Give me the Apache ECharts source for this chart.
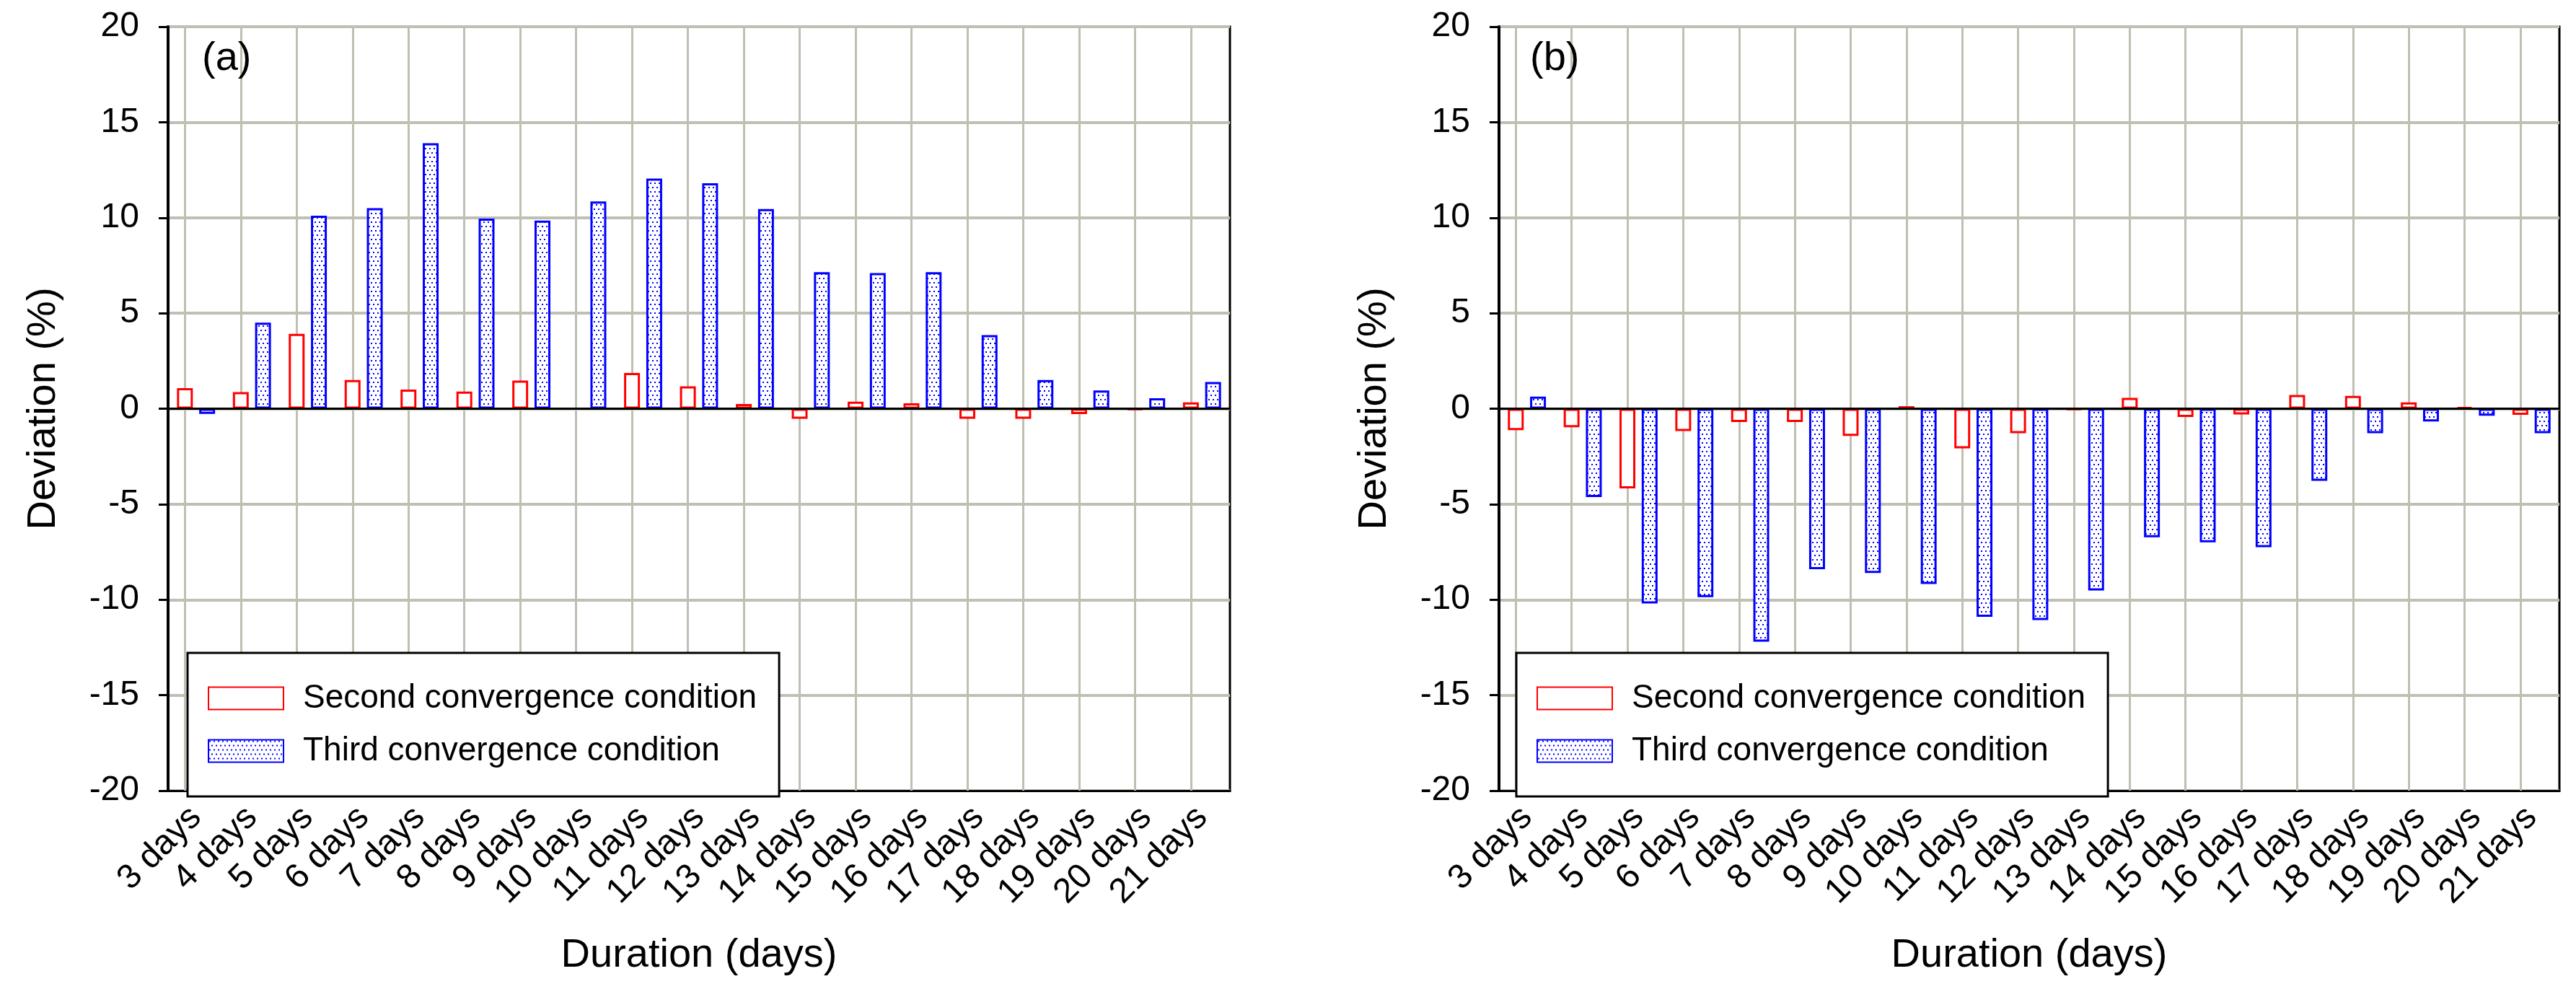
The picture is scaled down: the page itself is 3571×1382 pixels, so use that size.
<!DOCTYPE html>
<html>
<head>
<meta charset="utf-8">
<script src="https://cdn.jsdelivr.net/npm/echarts@6/dist/echarts.min.js"></script>
<style>
html,body{margin:0;padding:0;background:#fff;}
#chart{width:3571px;height:1382px;}
</style>
</head>
<body>
<div id="chart"></div>
<script>
// ---- data ----
const categories = ['3 days','4 days','5 days','6 days','7 days','8 days','9 days','10 days','11 days','12 days','13 days','14 days','15 days','16 days','17 days','18 days','19 days','20 days','21 days'];
const yTicks = [-20, -15, -10, -5, 0, 5, 10, 15, 20];
const secondA = [1.08, 0.87, 3.92, 1.5, 1.0, 0.9, 1.47, 0, 1.87, 1.17, 0.25, -0.53, 0.37, 0.28, -0.53, -0.53, -0.28, -0.05, 0.33];
const thirdA  = [-0.27, 4.5, 10.1, 10.5, 13.9, 9.95, 9.85, 10.85, 12.05, 11.8, 10.45, 7.15, 7.1, 7.15, 3.85, 1.5, 0.95, 0.55, 1.4];
const secondB = [-1.12, -0.97, -4.17, -1.17, -0.7, -0.7, -1.43, 0.13, -2.08, -1.28, -0.05, 0.57, -0.43, -0.3, 0.72, 0.67, 0.33, 0.08, -0.32];
const thirdB  = [0.63, -4.63, -10.2, -9.87, -12.2, -8.4, -8.6, -9.18, -10.9, -11.07, -9.52, -6.73, -7.0, -7.25, -3.78, -1.28, -0.67, -0.37, -1.28];
const seriesNames = ['Second convergence condition', 'Third convergence condition'];
const panelLabels = ['(a)', '(b)'];
const xTitle = 'Duration (days)';
const yTitle = 'Deviation (%)';

// ---- styling ----
const FONT = 'Liberation Sans, Arial, sans-serif';
const GRIDC = '#bfbfb3';

// dotted pattern for third condition
const pc = document.createElement('canvas');
pc.width = 6; pc.height = 12;
const pctx = pc.getContext('2d');
pctx.fillStyle = '#ffffff';
pctx.fillRect(0, 0, 6, 12);
pctx.fillStyle = '#0000ff';
pctx.fillRect(1, 1, 2, 2);
pctx.fillRect(4, 7, 2, 2);
const dotPattern = { image: pc, repeat: 'repeat' };

const grids = [
  { left: 233, right: 1866, top: 37, bottom: 286 },
  { left: 2078, right: 23, top: 37, bottom: 286 }
];

function xAxisFor(i) {
  return {
    type: 'category', gridIndex: i, data: categories, boundaryGap: true,
    position: 'bottom',
    axisLine: { onZero: false, lineStyle: { color: '#000', width: 3 } },
    axisTick: { alignWithLabel: true, length: 15, lineStyle: { color: '#000', width: 3 } },
    axisLabel: { rotate: 45, interval: 0, fontSize: 48, fontFamily: FONT, color: '#000', margin: 30 },
    splitLine: { show: false },
    name: xTitle, nameLocation: 'middle', nameGap: 229,
    nameTextStyle: { fontSize: 56, fontFamily: FONT, color: '#000', verticalAlign: 'middle' }
  };
}
function yAxisFor(i) {
  return {
    type: 'value', gridIndex: i, min: yTicks[0], max: yTicks[yTicks.length - 1], interval: yTicks[1] - yTicks[0],
    axisLine: { show: true, lineStyle: { color: '#000', width: 4 } },
    axisTick: { show: true, length: 13, lineStyle: { color: '#000', width: 3 } },
    axisLabel: { fontSize: 48, fontFamily: FONT, color: '#000', margin: 40 },
    splitLine: { show: true, lineStyle: { color: GRIDC, width: 4 } },
    name: yTitle, nameLocation: 'middle', nameGap: 172, nameRotate: 90,
    nameTextStyle: { fontSize: 56, fontFamily: FONT, color: '#000', verticalAlign: 'middle' }
  };
}
function barSeries(name, data, i, isThird) {
  const s = {
    name: name, type: 'bar', xAxisIndex: i, yAxisIndex: i, data: data,
    barWidth: 22, barGap: '40%',
    itemStyle: isThird
      ? { color: dotPattern, borderColor: '#0000ff', borderWidth: 3 }
      : { color: '#ffffff', borderColor: '#ff0000', borderWidth: 3 },
    emphasis: { disabled: true },
    z: 3
  };
  if (isThird) {
    // zero reference line
    s.markLine = {
      silent: true, symbol: ['none', 'none'], label: { show: false }, z: 4,
      lineStyle: { color: '#000', width: 3, type: 'solid' },
      data: [{ yAxis: 0 }], animation: false
    };
  } else {
    // vertical grid lines through category centres
    s.markLine = {
      silent: true, symbol: ['none', 'none'], label: { show: false }, z: 1,
      lineStyle: { color: GRIDC, width: 3, type: 'solid' },
      data: categories.map(c => ({ xAxis: c })), animation: false
    };
  }
  return s;
}
function legendFor(i, left) {
  return {
    data: seriesNames, orient: 'vertical', left: left, top: 905, z: 20,
    itemWidth: 104, itemHeight: 31, itemGap: 27, icon: 'rect',
    padding: [40, 31, 40, 28],
    backgroundColor: '#fff', borderColor: '#000', borderWidth: 3, borderRadius: 0,
    selectedMode: false,
    textStyle: { fontSize: 46, fontFamily: FONT, color: '#000', lineHeight: 31, padding: [0, 0, 0, 22] }
  };
}

const option = {
  animation: false,
  backgroundColor: '#fff',
  grid: grids.map(g => Object.assign({ show: true, borderColor: '#000', borderWidth: 3, backgroundColor: 'transparent' }, g)),
  xAxis: [xAxisFor(0), xAxisFor(1)],
  yAxis: [yAxisFor(0), yAxisFor(1)],
  legend: [legendFor(0, 260), legendFor(1, 2102)],
  graphic: [
    { type: 'text', x: 280, y: 82, z: 30, style: { text: panelLabels[0], font: '56px ' + FONT, fill: '#000', verticalAlign: 'middle', align: 'left' } },
    { type: 'text', x: 2121, y: 82, z: 30, style: { text: panelLabels[1], font: '56px ' + FONT, fill: '#000', verticalAlign: 'middle', align: 'left' } }
  ],
  series: [
    barSeries(seriesNames[0], secondA, 0, false),
    barSeries(seriesNames[1], thirdA, 0, true),
    barSeries(seriesNames[0], secondB, 1, false),
    barSeries(seriesNames[1], thirdB, 1, true)
  ]
};
const chart = echarts.init(document.getElementById('chart'), null, { renderer: 'canvas' });
chart.setOption(option);
</script>
</body>
</html>
